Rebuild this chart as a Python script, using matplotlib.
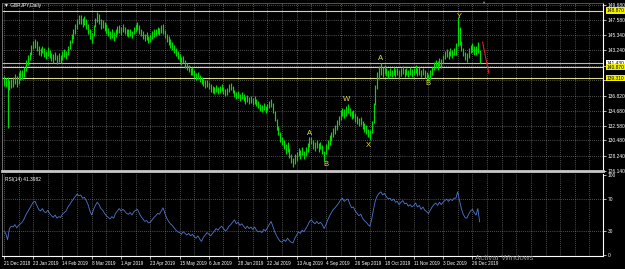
import matplotlib
matplotlib.use('Agg')
import matplotlib.pyplot as plt
import matplotlib.transforms as mtransforms
import numpy as np

plt.rcParams['font.family'] = ['Liberation Sans', 'DejaVu Sans']

symbol_title = "\u25bc GBPJPY,Daily"
rsi_title = "RSI(14) 41.3982"

date_labels = ["21 Dec 2018", "23 Jan 2019", "14 Feb 2019", "8 Mar 2019", "1 Apr 2019",
               "23 Apr 2019", "15 May 2019", "6 Jun 2019", "28 Jun 2019", "22 Jul 2019",
               "13 Aug 2019", "4 Sep 2019", "26 Sep 2019", "18 Oct 2019", "11 Nov 2019",
               "3 Dec 2019", "26 Dec 2019"]

lows = [
    138.2, 138.0, 132.2, 137.6, 137.9, 138.1, 138.4, 138.0, 138.5, 139.0,
    139.2, 139.5, 140.3, 141.2, 141.8, 142.5, 143.4, 143.6, 143.2, 142.6,
    142.4, 142.8, 142.3, 142.0, 142.4, 142.1, 141.7, 141.5, 141.8, 141.3,
    141.6, 141.4, 141.9, 142.3, 142.0, 142.5, 143.4, 144.2, 144.8, 145.6,
    146.3, 146.9, 147.0, 146.5, 146.8, 146.2, 145.5, 144.9, 144.3, 145.2,
    146.5, 147.2, 147.0, 146.2, 146.4, 146.0, 145.6, 145.2, 144.8, 145.0,
    144.6, 145.1, 145.5, 145.7, 145.4, 145.8, 145.5, 145.2, 145.1, 145.3,
    145.0, 145.5, 145.8, 146.1, 145.6, 145.2, 144.8, 144.5, 144.7, 144.3,
    144.4, 144.8, 145.1, 145.3, 145.6, 145.4, 145.7, 145.5, 145.0, 144.4,
    144.0, 143.6, 143.3, 142.9, 142.4, 142.0, 141.6, 141.1, 141.4, 140.8,
    140.4, 140.1, 139.7, 139.8, 139.3, 139.0, 139.2, 138.8, 138.5, 138.2,
    137.9, 138.1, 137.7, 137.4, 137.2, 137.0, 137.3, 137.0, 137.2, 137.5,
    137.1, 136.8, 136.9, 137.3, 137.6, 137.2, 136.6, 136.3, 136.5, 136.1,
    136.3, 136.0, 135.7, 135.9, 135.6, 135.8, 135.5, 135.7, 135.3, 135.0,
    134.7, 134.5, 134.8, 134.3, 134.6, 135.0, 135.2, 134.4, 133.2, 132.0,
    131.2, 130.3, 129.8, 129.2, 128.6, 128.9, 128.0, 127.3, 126.7, 127.2,
    127.6, 128.2, 127.9, 128.4, 127.8, 128.3, 128.8, 129.6, 130.0, 129.3,
    129.0, 129.4, 128.9, 129.2, 128.6, 127.6, 128.5, 129.2, 129.8, 130.4,
    131.0, 131.4, 131.9, 132.6, 133.4, 133.9, 133.6, 134.0, 134.3, 133.9,
    133.5, 133.7, 133.1, 132.8, 132.5, 132.7, 132.1, 131.7, 131.4, 130.9,
    130.6, 131.5, 133.0, 135.5, 137.8, 139.2, 139.8, 139.5, 139.9, 139.6,
    139.3, 139.6, 139.4, 139.8, 139.5, 139.7, 139.3, 139.6, 139.9, 139.5,
    139.7, 139.4, 139.8, 139.5, 139.7, 140.0, 139.6, 139.8, 139.4, 139.7,
    139.3, 139.0, 139.0, 139.2, 139.7, 140.4, 140.7, 140.5, 141.0, 140.8,
    141.4, 142.0, 142.3, 142.0, 142.4, 142.2, 142.5, 142.6, 143.8, 144.0,
    143.2, 142.4, 141.8, 141.6, 142.2, 142.8, 143.0, 142.5, 142.6, 142.9,
    141.4]

highs = [
    139.6, 139.3, 139.4, 139.0, 139.2, 139.5, 139.9, 139.6, 140.1, 140.5,
    140.4, 140.9, 141.8, 142.6, 143.0, 144.0, 144.6, 144.8, 144.5, 143.9,
    143.6, 143.9, 143.5, 143.2, 143.7, 143.3, 142.9, 142.7, 143.0, 142.5,
    142.8, 142.6, 143.1, 143.4, 143.2, 143.8, 144.7, 145.5, 146.2, 146.9,
    147.6, 148.2, 148.3, 147.8, 148.1, 147.6, 146.9, 146.3, 145.7, 146.8,
    147.8, 148.7, 148.4, 147.6, 147.5, 147.3, 146.9, 146.4, 146.0, 146.2,
    145.8, 146.3, 146.7, 146.8, 146.5, 146.9, 146.6, 146.3, 146.2, 146.3,
    146.0, 146.6, 147.0, 147.2, 146.8, 146.3, 145.9, 145.6, 145.8, 145.3,
    145.5, 145.9, 146.2, 146.3, 146.6, 146.4, 146.8, 146.9, 146.1, 145.6,
    145.2, 144.8, 144.4, 144.0, 143.5, 143.1, 142.7, 142.3, 142.4, 141.9,
    141.5, 141.1, 140.8, 140.9, 140.4, 140.0, 140.2, 139.8, 139.5, 139.2,
    139.0, 139.1, 138.7, 138.4, 138.2, 138.0, 138.3, 138.1, 138.2, 138.5,
    138.1, 137.8, 137.9, 138.4, 138.6, 138.2, 137.6, 137.3, 137.5, 137.1,
    137.3, 137.0, 136.7, 136.9, 136.6, 136.8, 136.5, 136.8, 136.4, 136.0,
    135.7, 135.5, 135.8, 135.3, 135.6, 136.0, 136.3, 135.8, 134.6, 133.5,
    132.5, 131.6, 131.0, 130.5, 129.9, 130.2, 129.4, 128.6, 128.0, 128.5,
    128.8, 129.4, 129.1, 129.6, 129.0, 129.5, 130.1, 130.9, 131.0, 130.5,
    130.2, 130.6, 130.1, 130.3, 129.8, 129.0, 129.9, 130.6, 131.2, 131.7,
    132.3, 132.6, 133.3, 134.0, 134.8, 135.1, 134.9, 135.3, 135.6, 135.0,
    134.7, 134.8, 134.3, 133.9, 133.6, 133.8, 133.2, 132.9, 132.6, 132.1,
    131.9, 133.2, 135.8, 138.3, 140.2, 141.0, 141.4, 140.9, 141.1, 140.8,
    140.5, 140.7, 140.5, 140.9, 140.6, 140.8, 140.4, 140.7, 141.0, 140.6,
    140.8, 140.5, 140.9, 140.6, 140.7, 141.1, 140.7, 140.9, 140.5, 140.8,
    140.4, 140.2, 139.9, 140.4, 140.9, 141.6, 141.9, 141.7, 142.2, 142.0,
    142.6, 143.2, 143.4, 143.1, 143.5, 143.3, 143.6, 144.2, 147.9, 146.5,
    144.6, 143.6, 143.0, 142.8, 143.5, 144.0, 144.3, 143.8, 143.9, 144.4,
    143.3]

rsi = [
    30, 27, 19, 33, 36, 35, 38, 34, 37, 39,
    41, 45, 50, 54, 58, 62, 66, 67, 62, 57,
    55, 58, 54, 53, 56, 52, 49, 47, 50, 46,
    48, 47, 51, 53, 55, 60, 63, 67, 70, 73,
    76, 74, 75, 71, 72, 68, 63, 55, 50, 57,
    62, 66, 63, 58, 56, 52, 49, 47, 45, 48,
    46, 52, 55, 58, 55, 57, 55, 52, 51, 53,
    50, 54, 56, 57, 52, 48, 45, 42, 43, 40,
    41, 44, 47, 49, 52, 51, 55, 59, 52, 46,
    42, 39, 37, 34, 31, 29, 28, 26, 29, 27,
    25, 27, 24, 26, 23, 21, 24, 20, 17, 22,
    25, 28, 26, 24, 27, 30, 33, 31, 34, 36,
    33, 30, 32, 36, 38, 41, 44, 39, 41, 37,
    39, 36, 33, 36, 33, 35, 32, 35, 31, 29,
    30, 28, 32, 30, 34, 38, 42, 36, 29, 24,
    20, 17, 16, 19, 17, 21, 18, 16, 15, 21,
    25, 29, 27, 31, 29, 33, 37, 42, 44, 41,
    39, 42, 39, 41, 38, 33, 38, 44, 49, 53,
    57, 59, 62, 65, 69, 71, 67, 69, 70, 64,
    59, 60, 55, 52, 49, 51, 46, 43, 41, 38,
    36, 45, 57, 68, 74, 77, 79, 75, 77, 73,
    70, 71, 68, 70, 66, 67, 63, 66, 68, 64,
    65, 61, 63, 60, 62, 65, 60, 62, 57, 60,
    56, 54, 52, 56, 60, 63, 65, 62, 66, 63,
    66, 68, 70, 67, 70, 68, 71, 71, 79, 68,
    58, 51, 47, 46, 51, 55, 57, 53, 50, 58,
    41.4]

price_ticks = [126.14, 128.24, 130.48, 132.58, 134.68, 136.82, 138.96,
               141.06, 143.24, 145.34, 147.58, 149.68]
hidden_ticks = [138.96, 141.06]

level_prices = [148.87, 141.43, 140.87, 139.31]
level_kinds = ["yellow", "white", "yellow", "yellow"]

wave_labels = ["A", "B", "W", "X", "A", "B", "Y"]
wave_bars = [167.3, 176.0, 187.5, 199.0, 206.1, 231.7, 248.7]
wave_prices = [131.5, 127.0, 136.3, 129.8, 142.1, 138.5, 148.0]

trend_bars = [261.6, 265.0]
trend_prices = [144.4, 140.0]

rsi_ticks = [0, 30, 70, 100]
rsi_levels = [30, 70]

# ---------------------------------------------------------------
W, H = 625, 269
fig = plt.figure(figsize=(W / 100, H / 100), dpi=100, facecolor='black')

FS = 3.5


def box(l, t, r, b):
    return [l / W, 1 - b / H, (r - l) / W, (b - t) / H]


ax = fig.add_axes(box(2, 3, 603, 171))
ax_r = fig.add_axes(box(2, 174, 603, 256), sharex=ax)

bars = np.arange(len(highs))
x_left, x_right = -1.04, 327.4
px_per_yen = 7.06
y_bot = 126.14
y_top = y_bot + 168 / px_per_yen

grid_kw = dict(color='#9a9a9a', lw=0.5, ls=(0, (1, 2)), zorder=1)
for a in (ax, ax_r):
    a.set_facecolor('black')
    for b in range(0, 328, 8):
        a.axvline(b, **grid_kw)

# main panel
for p in price_ticks:
    ax.axhline(p, **grid_kw)

level_colors = {"yellow": "#d8d890", "white": "#b8b8b8"}
label_bg = {"yellow": "#f2f200", "white": "#ffffff"}
for p, k in zip(level_prices, level_kinds):
    ax.axhline(p, color=level_colors[k], lw=0.8, zorder=2)

ax.vlines(bars, lows, highs, color='#00dd00', lw=0.85, zorder=3)
ax.plot(trend_bars, trend_prices, color='#e02020', lw=0.8, zorder=4)

for s, b, p in zip(wave_labels, wave_bars, wave_prices):
    ax.text(b, p, s, color='#e8e040', fontsize=5.5, ha='center', va='center', zorder=5)

ax.set_xlim(x_left, x_right)
ax.set_ylim(y_bot, y_top)
ax.yaxis.tick_right()
ax.set_yticks(price_ticks)
ax.set_yticklabels(['' if p in hidden_ticks else f'{p:.3f}' for p in price_ticks])
ax.tick_params(axis='y', colors='white', labelsize=FS, length=2, pad=1.5, width=0.5)
ax.tick_params(axis='x', length=0, labelbottom=False)

trans = mtransforms.blended_transform_factory(ax.transAxes, ax.transData)
for p, k in zip(level_prices, level_kinds):
    ax.text(1 + 4 / 601, p, f'{p:.3f}', transform=trans, fontsize=FS, color='black',
            ha='left', va='center', clip_on=False, zorder=6,
            bbox=dict(boxstyle='square,pad=0.12', fc=label_bg[k], ec='none'))

ax.spines['bottom'].set_color('#c8c8c8')
ax.spines['bottom'].set_linewidth(2.0)
ax.spines['top'].set_color('#606060')
ax.spines['top'].set_linewidth(0.6)
ax.spines['left'].set_color('#808080')
ax.spines['left'].set_linewidth(0.6)
ax.spines['right'].set_color('white')
ax.spines['right'].set_linewidth(0.8)

# RSI panel
for lv in rsi_levels:
    ax_r.axhline(lv, **grid_kw)
ax_r.plot(bars, rsi, color='#5078d0', lw=0.6, zorder=3)
ax_r.set_ylim((255 - 256) / 0.8, (255 - 174) / 0.8)
ax_r.yaxis.tick_right()
ax_r.set_yticks(rsi_ticks)
ax_r.set_yticklabels([str(t) for t in rsi_ticks])
ax_r.tick_params(axis='y', colors='white', labelsize=FS, length=2, pad=1.5, width=0.5)
ax_r.set_xticks(range(0, 16 * len(date_labels), 16))
ax_r.set_xticklabels(date_labels, ha='left')
ax_r.tick_params(axis='x', colors='white', labelsize=3.3, length=2, pad=1.8, width=0.5)
ax_r.spines['top'].set_visible(False)
ax_r.spines['bottom'].set_color('white')
ax_r.spines['bottom'].set_linewidth(0.8)
ax_r.spines['right'].set_color('white')
ax_r.spines['right'].set_linewidth(0.8)
ax_r.spines['left'].set_color('#808080')
ax_r.spines['left'].set_linewidth(0.6)

# texts
fig.text(4 / W, 1 - 5 / H, symbol_title, color='white', fontsize=FS, ha='left', va='center')
fig.text(5 / W, 1 - 179 / H, rsi_title, color='white', fontsize=FS, ha='left', va='center')
fig.text(483 / W, 1 - 3 / H, "\u25bc", color='#909090', fontsize=3.0, ha='center', va='center')
fig.text(475 / W, 1 - 258 / H, "Activar Windows", color='#8a8a8a', fontsize=5.7,
         ha='left', va='center')

fig.savefig('out.png', dpi=100, facecolor='black')
